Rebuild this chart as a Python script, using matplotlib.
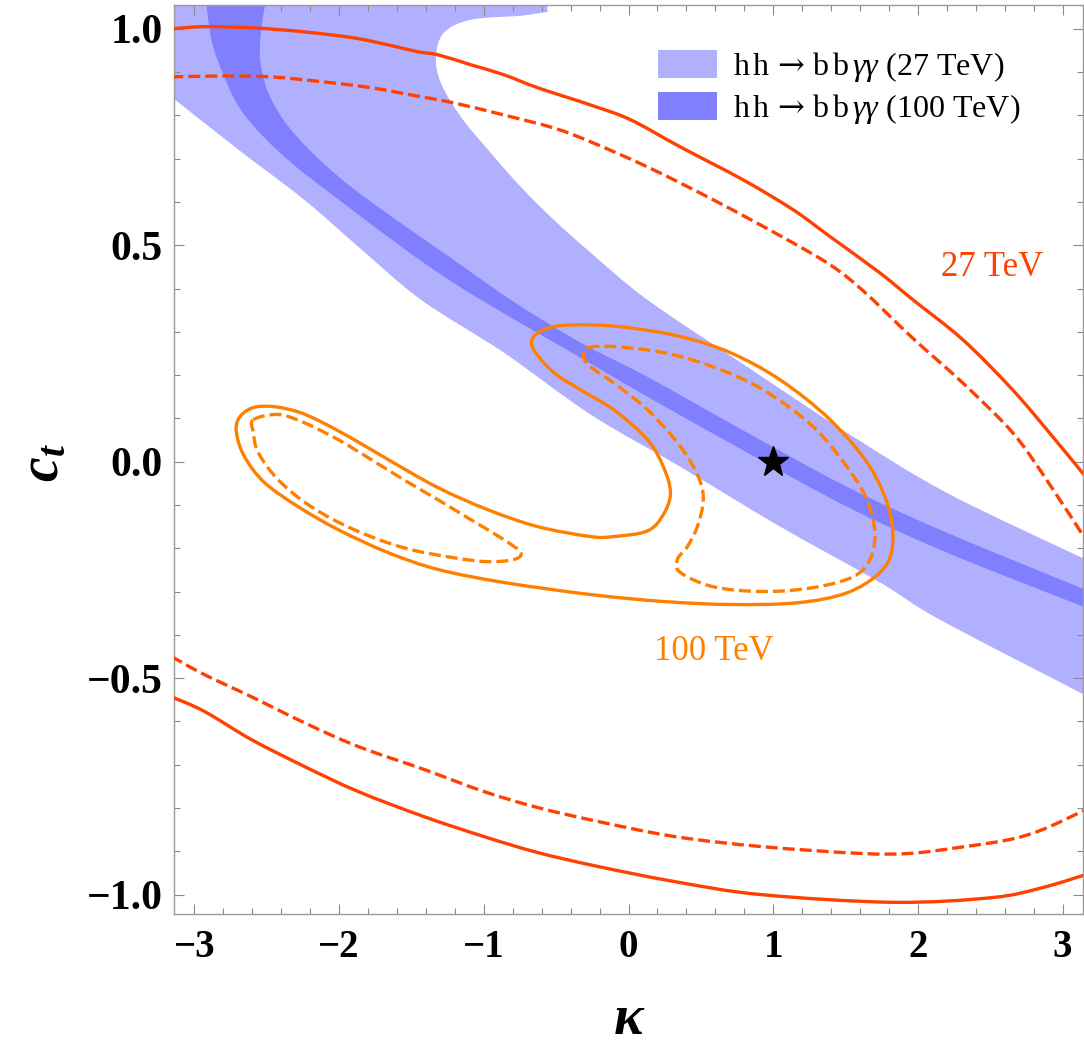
import matplotlib
matplotlib.use('Agg')
import matplotlib.pyplot as plt
import numpy as np
from matplotlib.patches import Patch, PathPatch
from matplotlib.path import Path

plt.rcParams['font.family'] = ['Liberation Serif', 'DejaVu Serif']
plt.rcParams['mathtext.fontset'] = 'custom'
plt.rcParams['mathtext.it'] = 'Liberation Serif:style=italic'
plt.rcParams['mathtext.rm'] = 'DejaVu Serif'
plt.rcParams['mathtext.bf'] = 'Liberation Serif:weight=bold'
plt.rcParams['mathtext.bfit'] = 'Liberation Serif:style=italic:weight=bold'

# ---------------- data (kappa, c_t) ----------------
# 27 TeV contours (red): solid = outer, dashed = inner
R27_SOLID_UP_X = [-3.16, -2.931, -2.586, -2.241, -1.897, -1.662, -1.455, -1.317, -1.090, -0.862, -0.628,
                  -0.262, 0.014, 0.359, 0.793, 1.138, 1.393, 1.738, 1.966, 2.310, 2.655, 2.931, 3.16]
R27_SOLID_UP_Y = [1.000, 1.005, 1.002, 0.993, 0.979, 0.963, 0.947, 0.940, 0.917, 0.894, 0.864,
                  0.824, 0.790, 0.727, 0.651, 0.582, 0.520, 0.436, 0.374, 0.282, 0.166, 0.058, -0.035]
R27_SOLID_LO_X = [-3.16, -2.931, -2.607, -2.241, -1.869, -1.414, -1.000, -0.628, -0.214, 0.317,
                  0.910, 1.828, 2.517, 2.862, 3.16]
R27_SOLID_LO_Y = [-0.543, -0.577, -0.642, -0.704, -0.762, -0.820, -0.866, -0.903, -0.935, -0.970,
                  -1.000, -1.018, -1.007, -0.984, -0.954]
R27_DASH_UP_X = [-3.16, -2.814, -2.469, -2.124, -1.779, -1.434, -1.207, -0.862, -0.517, -0.262, 0.131,
                 0.586, 1.048, 1.393, 1.621, 1.966, 2.310, 2.655, 2.890, 3.16]
R27_DASH_UP_Y = [0.889, 0.891, 0.889, 0.878, 0.864, 0.843, 0.829, 0.801, 0.771, 0.739, 0.681,
                 0.605, 0.522, 0.455, 0.395, 0.285, 0.182, 0.067, -0.042, -0.180]
R27_DASH_LO_X = [-3.16, -2.931, -2.607, -2.241, -1.869, -1.414, -1.000, -0.628, -0.214, 0.317,
                 0.910, 1.600, 1.945, 2.290, 2.634, 2.862, 3.16]
R27_DASH_LO_Y = [-0.450, -0.492, -0.543, -0.603, -0.658, -0.711, -0.762, -0.799, -0.831, -0.866,
                 -0.889, -0.905, -0.905, -0.891, -0.873, -0.850, -0.804]

# 100 TeV contours (orange), closed loops
O100_SOLID_X = [-0.262, 0.014, 0.359, 0.703, 1.048, 1.393, 1.669, 1.807, 1.821, 1.738, 1.510, 1.166,
                0.703, 0.241, -0.262, -0.862, -1.317, -1.662, -2.007, -2.283, -2.517, -2.655, -2.710,
                -2.690, -2.593, -2.448, -2.283, -2.124, -1.897, -1.662, -1.317, -0.972, -0.628, -0.262,
                -0.103, 0.131, 0.241, 0.290, 0.241, 0.131, -0.103, -0.331, -0.517, -0.655, -0.655,
                -0.517]
O100_SOLID_Y = [0.316, 0.309, 0.289, 0.252, 0.189, 0.097, -0.012, -0.118, -0.203, -0.256, -0.303, -0.326,
                -0.330, -0.323, -0.307, -0.279, -0.249, -0.210, -0.157, -0.104, -0.048, 0.012, 0.067,
                0.102, 0.125, 0.127, 0.115, 0.092, 0.051, 0.005, -0.060, -0.111, -0.150, -0.173,
                -0.173, -0.160, -0.122, -0.072, -0.012, 0.051, 0.120, 0.166, 0.206, 0.259, 0.289,
                0.312]
O100_DASH_L_X = [-2.593, -2.421, -2.241, -2.007, -1.779, -1.552, -1.317, -1.090, -0.862, -0.745, -0.793,
                 -0.972, -1.207, -1.552, -1.897, -2.193, -2.421, -2.559, -2.593]
O100_DASH_L_Y = [0.097, 0.109, 0.090, 0.051, 0.005, -0.042, -0.088, -0.134, -0.180, -0.210, -0.226,
                 -0.231, -0.222, -0.199, -0.157, -0.104, -0.042, 0.021, 0.067]
O100_DASH_R_X = [-0.283, -0.103, 0.241, 0.586, 0.931, 1.276, 1.510, 1.648, 1.703, 1.669, 1.552, 1.276,
                 0.931, 0.586, 0.359, 0.338, 0.407, 0.476, 0.517, 0.483, 0.359, 0.131, -0.103, -0.262,
                 -0.310]
O100_DASH_R_Y = [0.263, 0.266, 0.252, 0.219, 0.166, 0.081, -0.012, -0.088, -0.164, -0.226, -0.266, -0.291,
                 -0.300, -0.289, -0.256, -0.226, -0.196, -0.150, -0.088, -0.035, 0.035, 0.120, 0.182, 0.219,
                 0.242]

# hh -> bb gamma gamma bands
B27_TOP_X = [-3.16, -0.572, -0.559]            # along the top edge, then the small tail
B27_TOP_Y = [1.10, 1.10, 1.039]
B27_UP_X = [-0.745, -1.090, -1.276, -1.331, -1.297, -1.159, -0.972, -0.745, -0.517,
            -0.262, 0.131, 0.821, 1.510, 2.200, 3.16]
B27_UP_Y = [1.030, 1.021, 0.991, 0.935, 0.875, 0.797, 0.721, 0.635, 0.559,
            0.483, 0.374, 0.219, 0.067, -0.072, -0.226]
B27_LO_X = [3.16, 2.152, 1.738, 1.048, 0.359, -0.262, -0.862, -1.434, -1.869, -2.241, -2.697, -3.16]
B27_LO_Y = [-0.540, -0.365, -0.279, -0.150, -0.012, 0.109, 0.252, 0.374, 0.497, 0.605, 0.721, 0.843]

B100_LO_X = [-2.931, -2.883, -2.800, -2.690, -2.524, -2.297, -2.021, -1.710, -1.366, -1.021, -0.331,
             0.131, 0.821, 1.510, 2.200, 3.16]
B100_LO_Y = [1.10, 0.975, 0.894, 0.818, 0.751, 0.681, 0.610, 0.531, 0.448, 0.374, 0.240,
             0.150, 0.021, -0.104, -0.210, -0.337]
B100_UP_X = [-2.490, -2.538, -2.545, -2.497, -2.386, -2.207, -1.952, -1.607, -1.228, -0.814, -0.331,
             0.131, 0.821, 1.510, 2.200, 3.16]
B100_UP_Y = [1.10, 0.998, 0.928, 0.859, 0.790, 0.721, 0.644, 0.559, 0.471, 0.374, 0.275,
             0.196, 0.067, -0.058, -0.164, -0.296]

SM_POINT = (1.0, 0.0)

XTICKS = [-3, -2, -1, 0, 1, 2, 3]
XTICK_LABELS = ['\u22123', '\u22122', '\u22121', '0', '1', '2', '3']
YTICKS = [-1.0, -0.5, 0.0, 0.5, 1.0]
YTICK_LABELS = ['\u22121.0', '\u22120.5', '0.0', '0.5', '1.0']
LEGEND_LABELS = [r'h$\,$h$\,\rightarrow\,$b$\,$b$\,\gamma\gamma$ (27 TeV)',
                 r'h$\,$h$\,\rightarrow\,$b$\,$b$\,\gamma\gamma$ (100 TeV)']

# ---------------- styles ----------------
RED = '#ff4000'
ORANGE = '#ff8000'
LIGHT = '#b0b0ff'
DARK = '#8080ff'
LW = 2.4
DASH = (0, (3.6, 1.5))


def smooth_segments(xs, ys, closed=False):
    """Cubic Bezier segments (Catmull-Rom tangents) through the given data points."""
    p = np.column_stack([xs, ys]).astype(float)
    n = len(p)
    verts, codes = [], []
    nseg = n if closed else n - 1
    for i in range(nseg):
        p0 = p[(i - 1) % n] if (closed or i > 0) else p[i]
        p1 = p[i]
        p2 = p[(i + 1) % n]
        p3 = p[(i + 2) % n] if (closed or i + 2 < n) else p2
        verts += [p1 + (p2 - p0) / 6.0, p2 - (p3 - p1) / 6.0, p2]
        codes += [Path.CURVE4] * 3
    return p, verts, codes


def smooth_path(xs, ys, closed=False):
    p, v, c = smooth_segments(xs, ys, closed)
    return Path([p[0]] + v, [Path.MOVETO] + c)


def add_line(ax, xs, ys, closed=False, **kw):
    ax.add_patch(PathPatch(smooth_path(xs, ys, closed), fill=False, transform=ax.transData,
                           capstyle='butt', joinstyle='round', **kw))


fig = plt.figure(figsize=(10.84, 10.49), dpi=100)
ax = fig.add_axes([0.1605, 0.1287, 0.8386, 0.8665])

# light band (27 TeV)
verts = [(B27_TOP_X[0], B27_TOP_Y[0])]
codes = [Path.MOVETO]
for xx, yy in zip(B27_TOP_X[1:], B27_TOP_Y[1:]):
    verts.append((xx, yy)); codes.append(Path.LINETO)
verts.append((B27_UP_X[0], B27_UP_Y[0])); codes.append(Path.LINETO)
_, v, c = smooth_segments(B27_UP_X, B27_UP_Y)
verts += v; codes += c
verts.append((B27_LO_X[0], B27_LO_Y[0])); codes.append(Path.LINETO)
_, v, c = smooth_segments(B27_LO_X, B27_LO_Y)
verts += v; codes += c
verts.append((B27_TOP_X[0], B27_TOP_Y[0])); codes.append(Path.LINETO)
ax.add_patch(PathPatch(Path(verts, codes), facecolor=LIGHT, edgecolor='none', zorder=1))

# dark band (100 TeV)
_, v1, c1 = smooth_segments(B100_LO_X, B100_LO_Y)
_, v2, c2 = smooth_segments(B100_UP_X[::-1], B100_UP_Y[::-1])
verts = [(B100_LO_X[0], B100_LO_Y[0])] + v1 + [(B100_UP_X[-1], B100_UP_Y[-1])] + v2 + [(B100_LO_X[0], B100_LO_Y[0])]
codes = [Path.MOVETO] + c1 + [Path.LINETO] + c2 + [Path.LINETO]
ax.add_patch(PathPatch(Path(verts, codes), facecolor=DARK, edgecolor='none', zorder=2))

add_line(ax, R27_SOLID_UP_X, R27_SOLID_UP_Y, edgecolor=RED, lw=LW, zorder=4)
add_line(ax, R27_SOLID_LO_X, R27_SOLID_LO_Y, edgecolor=RED, lw=LW, zorder=4)
add_line(ax, R27_DASH_UP_X, R27_DASH_UP_Y, edgecolor=RED, lw=LW, ls=DASH, zorder=4)
add_line(ax, R27_DASH_LO_X, R27_DASH_LO_Y, edgecolor=RED, lw=LW, ls=DASH, zorder=4)

add_line(ax, O100_SOLID_X, O100_SOLID_Y, closed=True, edgecolor=ORANGE, lw=LW, zorder=4)
add_line(ax, O100_DASH_L_X, O100_DASH_L_Y, closed=True, edgecolor=ORANGE, lw=LW, ls=DASH, zorder=4)
add_line(ax, O100_DASH_R_X, O100_DASH_R_Y, closed=True, edgecolor=ORANGE, lw=LW, ls=DASH, zorder=4)

ax.plot([SM_POINT[0]], [SM_POINT[1]], marker='*', color='black', ms=23, zorder=6, ls='none')

ax.text(2.51, 0.448, '27 TeV', color=RED, fontsize=25, ha='center', va='center', zorder=7)
ax.text(0.593, -0.439, '100 TeV', color=ORANGE, fontsize=25, ha='center', va='center', zorder=7)

ax.set_xlim(-3.1416, 3.1416)
ax.set_ylim(-1.045, 1.055)

ax.set_xticks(XTICKS)
ax.set_xticklabels(XTICK_LABELS, fontsize=28, fontweight='bold')
ax.set_yticks(YTICKS)
ax.set_yticklabels(YTICK_LABELS, fontsize=30, fontweight='bold')
ax.set_xticks([v / 5 for v in range(-15, 16)], minor=True)
ax.set_yticks([v / 10 for v in range(-10, 11)], minor=True)
ax.tick_params(which='both', direction='in', top=True, right=True, color='#8a8a8a', width=0.8)
ax.tick_params(which='major', length=7)
ax.tick_params(which='minor', length=4)
ax.tick_params(axis='x', which='major', pad=11)
ax.tick_params(axis='y', which='major', pad=8)
for s in ax.spines.values():
    s.set_color('#9a9a9a')
    s.set_linewidth(1.0)

ax.set_xlabel('\u03ba', fontsize=40, fontstyle='italic', fontweight='bold')
ax.xaxis.set_label_coords(0.5, -0.1166)
ax.xaxis.label.set_va('center')
ax.set_ylabel(r'$\mathbfit{c}_{\mathbfit{t}}$', fontsize=40)
ax.yaxis.set_label_coords(-0.143, 0.497)
ax.yaxis.label.set_va('center')

handles = [Patch(facecolor=LIGHT, edgecolor='none'), Patch(facecolor=DARK, edgecolor='none')]
ax.legend(handles, LEGEND_LABELS, loc='upper left', bbox_to_anchor=(0.5325, 0.9505), frameon=False,
          fontsize=23, handlelength=1.85, handleheight=0.95, handletextpad=0.5, labelspacing=0.25,
          borderpad=0, borderaxespad=0)

fig.savefig('out.png', dpi=100)
